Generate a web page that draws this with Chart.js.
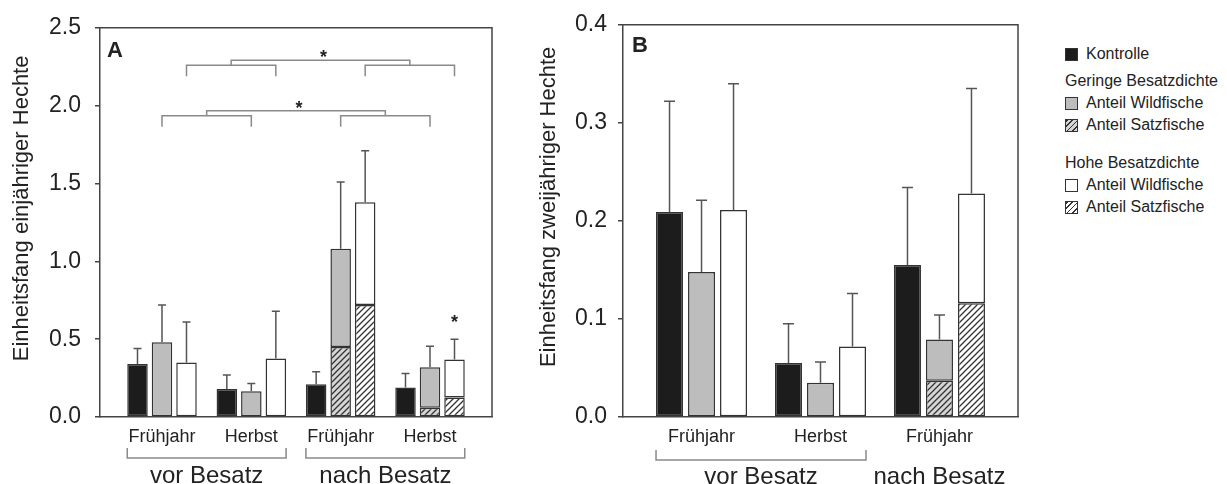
<!DOCTYPE html>
<html><head><meta charset="utf-8">
<script src="https://cdn.jsdelivr.net/npm/chart.js@4.4.1/dist/chart.umd.min.js"></script>
<style>
html,body{margin:0;padding:0;background:#fff;width:1227px;height:484px;overflow:hidden;font-family:"Liberation Sans",Arial,Helvetica,sans-serif;color:#222}
#ca{position:absolute;left:0;top:0}
#cb{position:absolute;left:520px;top:0}
#legend{position:absolute;left:1065px;top:43px;font-size:16px;line-height:22px;white-space:nowrap}
#legend .row{height:22px;display:flex;align-items:center}
#legend .head{margin-top:5px}
#legend .head2{margin-top:16px}
#legend .sw{width:11px;height:11px;border:1.5px solid #333;margin-right:8px;flex:none}
</style></head><body>
<canvas id="ca" width="500" height="484"></canvas>
<canvas id="cb" width="520" height="484"></canvas>
<div id="legend"></div>
<script>
// ---------- Panel A: Einheitsfang einjähriger Hechte ----------
const catsA = ['Frühjahr', 'Herbst', 'Frühjahr', 'Herbst'];
const groupsA = ['vor Besatz', 'nach Besatz'];
const groupOfCatA = [0, 0, 1, 1];
const kontrolleA = [0.34, 0.18, 0.21, 0.19];
const kontrolleErrA = [0.44, 0.27, 0.29, 0.28];
const geringeSatzA = [0, 0, 0.45, 0.06];
const geringeWildA = [0.48, 0.165, 0.63, 0.26];
const geringeErrA = [0.72, 0.215, 1.51, 0.455];
const hoheSatzA = [0, 0, 0.72, 0.125];
const hoheWildA = [0.35, 0.375, 0.66, 0.245];
const hoheErrA = [0.61, 0.68, 1.71, 0.50];
const yTicksA = [0, 0.5, 1.0, 1.5, 2.0, 2.5];
const titleA = 'Einheitsfang einjähriger Hechte';
// significance brackets: compared categories (pairs) for a series, bracket level in data units
const sigBracketsA = [
  { series: 'hohe', pairs: [[0, 1], [2, 3]], level: 2.26 },
  { series: 'geringe', pairs: [[0, 1], [2, 3]], level: 1.935 }
];
const sigStarsA = [{ series: 'hohe', cat: 3 }];

// ---------- Panel B: Einheitsfang zweijähriger Hechte ----------
const catsB = ['Frühjahr', 'Herbst', 'Frühjahr'];
const groupsB = ['vor Besatz', 'nach Besatz'];
const groupOfCatB = [0, 0, 1];
const kontrolleB = [0.209, 0.055, 0.155];
const kontrolleErrB = [0.322, 0.095, 0.234];
const geringeSatzB = [0, 0, 0.037];
const geringeWildB = [0.148, 0.035, 0.042];
const geringeErrB = [0.221, 0.056, 0.104];
const hoheSatzB = [0, 0, 0.116];
const hoheWildB = [0.211, 0.072, 0.112];
const hoheErrB = [0.34, 0.126, 0.335];
const yTicksB = [0, 0.1, 0.2, 0.3, 0.4];
const titleB = 'Einheitsfang zweijähriger Hechte';

const FAM = '"Liberation Sans", Arial, Helvetica, sans-serif';
const TXT = '#222';
Chart.defaults.font.family = FAM;
Chart.defaults.color = TXT;

function hatch(bg) {
  const s = 6, c = document.createElement('canvas');
  c.width = s; c.height = s;
  const g = c.getContext('2d');
  g.fillStyle = bg; g.fillRect(0, 0, s, s);
  g.strokeStyle = '#333'; g.lineWidth = 1.3;
  g.beginPath();
  g.moveTo(-1, s + 1); g.lineTo(s + 1, -1);
  g.moveTo(-1, 1); g.lineTo(1, -1);
  g.moveTo(s - 1, s + 1); g.lineTo(s + 1, s - 1);
  g.stroke();
  return g.createPattern(c, 'repeat');
}

const SERIES_IDX = { kontrolle: 0, geringe: 2, hohe: 4 };

function annotPlugin(d, o) {
  return {
    id: 'annot',
    afterDatasetsDraw(chart) {
      const { ctx, chartArea: ca, scales: { x, y } } = chart;
      ctx.save();
      // frame (top + right)
      ctx.strokeStyle = '#444'; ctx.lineWidth = 1.5;
      ctx.beginPath();
      ctx.moveTo(ca.left, ca.top); ctx.lineTo(ca.right, ca.top); ctx.lineTo(ca.right, ca.bottom);
      ctx.stroke();
      // error bars (upper only)
      chart.data.datasets.forEach((ds, di) => {
        if (!ds.err) return;
        const meta = chart.getDatasetMeta(di);
        meta.data.forEach((el, i) => {
          const yt = y.getPixelForValue(ds.err[i]);
          ctx.strokeStyle = '#555'; ctx.lineWidth = 1.5;
          ctx.beginPath();
          ctx.moveTo(el.x, el.y); ctx.lineTo(el.x, yt);
          ctx.moveTo(el.x - o.cap / 2, yt); ctx.lineTo(el.x + o.cap / 2, yt);
          ctx.stroke();
        });
      });
      // significance brackets
      ctx.fillStyle = TXT;
      (d.sigBrackets || []).forEach(b => {
        const meta = chart.getDatasetMeta(SERIES_IDX[b.series]);
        const yl = y.getPixelForValue(b.level);
        const mids = [];
        ctx.strokeStyle = '#8a8a8a'; ctx.lineWidth = 1.5;
        b.pairs.forEach(([a, c]) => {
          const xa = meta.data[a].x, xc = meta.data[c].x;
          ctx.beginPath();
          ctx.moveTo(xa, yl + 11); ctx.lineTo(xa, yl); ctx.lineTo(xc, yl); ctx.lineTo(xc, yl + 11);
          ctx.stroke();
          mids.push((xa + xc) / 2);
        });
        const y2 = yl - 5;
        ctx.beginPath();
        ctx.moveTo(mids[0], yl); ctx.lineTo(mids[0], y2); ctx.lineTo(mids[1], y2); ctx.lineTo(mids[1], yl);
        ctx.stroke();
        ctx.font = 'bold 18px ' + FAM; ctx.textAlign = 'center'; ctx.textBaseline = 'alphabetic';
        ctx.fillText('*', (mids[0] + mids[1]) / 2 + 3, y2 - 7 + 10);
      });
      (d.sigStars || []).forEach(s => {
        const di = SERIES_IDX[s.series];
        const el = chart.getDatasetMeta(di).data[s.cat];
        const yt = y.getPixelForValue(chart.data.datasets[di].err[s.cat]);
        ctx.font = 'bold 18px ' + FAM; ctx.textAlign = 'center'; ctx.textBaseline = 'alphabetic';
        ctx.fillText('*', el.x, yt - 21 + 10);
      });
      // group brackets + labels under the x axis
      const k = chart.getDatasetMeta(0), h = chart.getDatasetMeta(4);
      d.groups.forEach((gName, gi) => {
        const members = d.groupOf.map((g, i) => g === gi ? i : -1).filter(i => i >= 0);
        const first = members[0], last = members[members.length - 1];
        if (members.length > 1) {
          const l = k.data[first].x - k.data[first].width / 2;
          const r = h.data[last].x + h.data[last].width / 2;
          ctx.strokeStyle = '#8a8a8a'; ctx.lineWidth = 1.5;
          ctx.beginPath();
          ctx.moveTo(l, o.gbY - 10); ctx.lineTo(l, o.gbY); ctx.lineTo(r, o.gbY); ctx.lineTo(r, o.gbY - 10);
          ctx.stroke();
        }
        const cx = (x.getPixelForValue(first) + x.getPixelForValue(last)) / 2;
        ctx.fillStyle = TXT; ctx.font = '24px ' + FAM;
        ctx.textAlign = 'center'; ctx.textBaseline = 'alphabetic';
        ctx.fillText(gName, cx, o.glY);
      });
      // panel letter
      ctx.fillStyle = TXT; ctx.font = 'bold 22px ' + FAM;
      ctx.textAlign = 'left'; ctx.textBaseline = 'alphabetic';
      ctx.fillText(o.letter, ca.left + o.letterDX, ca.top + o.letterDY);
      // y-axis title
      ctx.fillStyle = TXT; ctx.font = '22px ' + FAM;
      ctx.translate(o.titleX, (ca.top + ca.bottom) / 2 - 14);
      ctx.rotate(-Math.PI / 2);
      ctx.textAlign = 'center'; ctx.textBaseline = 'middle';
      ctx.fillText(d.title, 0, 0);
      ctx.restore();
    }
  };
}

function build(id, d, o) {
  const pts = a => a.map((v, i) => ({ x: i, y: v }));
  const bw = c => (c.raw && c.raw.y > 0) ? 1.5 : 0;
  const common = { borderColor: '#333', borderWidth: bw, borderSkipped: false,
    barThickness: o.pitch, maxBarThickness: o.bar, inflateAmount: 0 };
  const datasets = [
    { ...common, label: 'Kontrolle', stack: 'k', data: pts(d.kontrolle), backgroundColor: '#1c1c1c', err: d.kontrolleErr },
    { ...common, label: 'Geringe Besatzdichte – Anteil Satzfische', stack: 'g', data: pts(d.geringeSatz), backgroundColor: hatch('#d6d6d6') },
    { ...common, label: 'Geringe Besatzdichte – Anteil Wildfische', stack: 'g', data: pts(d.geringeWild), backgroundColor: '#bdbdbd', err: d.geringeErr },
    { ...common, label: 'Hohe Besatzdichte – Anteil Satzfische', stack: 'h', data: pts(d.hoheSatz), backgroundColor: hatch('#ffffff') },
    { ...common, label: 'Hohe Besatzdichte – Anteil Wildfische', stack: 'h', data: pts(d.hoheWild), backgroundColor: '#ffffff', err: d.hoheErr }
  ];
  return new Chart(document.getElementById(id), {
    type: 'bar',
    data: { datasets },
    options: {
      responsive: false, animation: false,
      layout: { padding: { top: o.padTop, right: o.padRight, left: 0, bottom: 0 } },
      plugins: { legend: { display: false }, tooltip: { enabled: false } },
      scales: {
        x: {
          type: 'linear', min: -o.xPad, max: d.cats.length - 1 + o.xPad, offset: false, bounds: 'data',
          grid: { display: false, drawTicks: false, offset: false },
          border: { display: true, color: '#444', width: 1.5 },
          afterBuildTicks: s => { s.ticks = d.cats.map((c, i) => ({ value: i })); },
          ticks: { autoSkip: false, maxRotation: 0, padding: 9, font: { size: 18 }, color: TXT,
            callback: (v, i) => d.cats[i] },
          afterFit: s => { s.height = 67; }
        },
        y: {
          type: 'linear', stacked: true, min: d.yTicks[0], max: d.yTicks[d.yTicks.length - 1],
          afterBuildTicks: s => { s.ticks = d.yTicks.map(v => ({ value: v })); },
          grid: { display: true, drawOnChartArea: false, drawTicks: true, tickLength: 5, color: '#444', lineWidth: 1.5 },
          border: { display: true, color: '#444', width: 1.5 },
          ticks: { padding: o.tickPad, font: { size: 23 }, color: TXT, callback: v => v.toFixed(1) },
          afterFit: s => { s.width = o.yw; }
        }
      }
    },
    plugins: [annotPlugin(d, o)]
  });
}

build('ca', {
  cats: catsA, groups: groupsA, groupOf: groupOfCatA,
  kontrolle: kontrolleA, kontrolleErr: kontrolleErrA,
  geringeSatz: geringeSatzA, geringeWild: geringeWildA, geringeErr: geringeErrA,
  hoheSatz: hoheSatzA, hoheWild: hoheWildA, hoheErr: hoheErrA,
  yTicks: yTicksA, title: titleA, sigBrackets: sigBracketsA, sigStars: sigStarsA
}, { xPad: 0.694, pitch: 24.5, bar: 20.5, yw: 100, tickPad: 14, padTop: 23, padRight: 8, cap: 8,
     gbY: 458, glY: 483, letter: 'A', letterDX: 7, letterDY: 29, titleX: 22 });

build('cb', {
  cats: catsB, groups: groupsB, groupOf: groupOfCatB,
  kontrolle: kontrolleB, kontrolleErr: kontrolleErrB,
  geringeSatz: geringeSatzB, geringeWild: geringeWildB, geringeErr: geringeErrB,
  hoheSatz: hoheSatzB, hoheWild: hoheWildB, hoheErr: hoheErrB,
  yTicks: yTicksB, title: titleB
}, { xPad: 0.66, pitch: 32, bar: 27, yw: 103, tickPad: 11, padTop: 24, padRight: 22, cap: 11,
     gbY: 460, glY: 484, letter: 'B', letterDX: 9, letterDY: 27, titleX: 29 });

// ---------- Legend ----------
const legendItems = [
  { text: 'Kontrolle', fill: '#1c1c1c' },
  { text: 'Geringe Besatzdichte', head: 1 },
  { text: 'Anteil Wildfische', fill: '#bdbdbd' },
  { text: 'Anteil Satzfische', fill: 'repeating-linear-gradient(-45deg,#d6d6d6 0 2.6px,#333 2.6px 3.8px)' },
  { text: 'Hohe Besatzdichte', head: 2 },
  { text: 'Anteil Wildfische', fill: '#ffffff' },
  { text: 'Anteil Satzfische', fill: 'repeating-linear-gradient(-45deg,#ffffff 0 2.6px,#333 2.6px 3.8px)' }
];
const lg = document.getElementById('legend');
legendItems.forEach(it => {
  const row = document.createElement('div');
  row.className = 'row' + (it.head === 1 ? ' head' : it.head === 2 ? ' head2' : '');
  if (!it.head) {
    const sw = document.createElement('span');
    sw.className = 'sw';
    sw.style.background = it.fill;
    row.appendChild(sw);
  }
  const t = document.createElement('span');
  t.textContent = it.text;
  row.appendChild(t);
  lg.appendChild(row);
});
</script>
</body></html>
